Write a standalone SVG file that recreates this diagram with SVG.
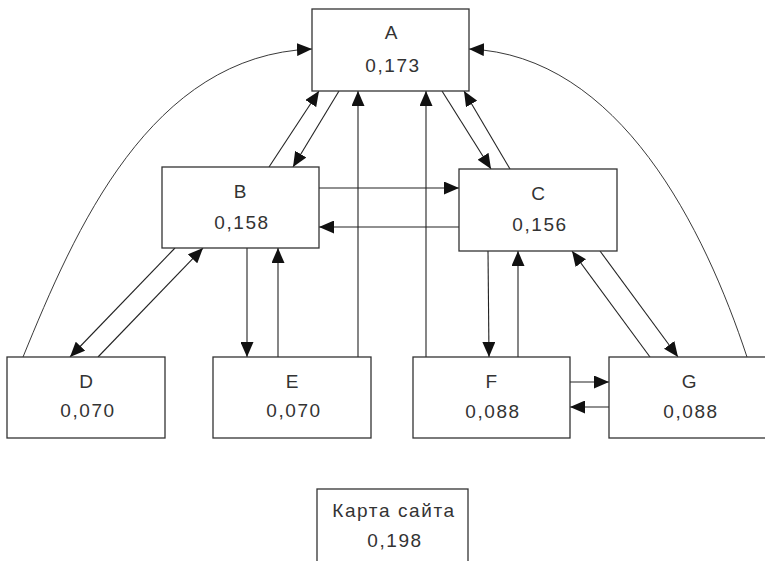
<svg xmlns="http://www.w3.org/2000/svg" width="765" height="561" viewBox="0 0 765 561">
<style>
.box{fill:#fff;stroke:#333;stroke-width:1.3}
.t{font-family:"Liberation Sans",Arial,sans-serif;font-size:19px;fill:#333;text-anchor:middle;letter-spacing:1.6px}
.c{fill:none;stroke:#222;stroke-width:1.1;marker-end:url(#arr)}
.cv{fill:none;stroke:#222;stroke-width:0.9;marker-end:url(#arr)}
</style>
<defs>
<marker id="arr" viewBox="0 0 15 13" refX="15" refY="6.5" markerWidth="15" markerHeight="13" markerUnits="userSpaceOnUse" orient="auto">
<path d="M0,0 L15,6.5 L0,13 z" fill="#111"/>
</marker>
</defs>
<rect width="765" height="561" fill="#fff"/>
<g id="connectors">
<path class="cv" d="M23,357 C75,230 150,55 312,49"/>
<path class="cv" d="M747,357 C705,230 620,55 469,49"/>
<line class="c" x1="269" y1="167" x2="319" y2="91"/>
<line class="c" x1="339" y1="91" x2="293" y2="167"/>
<line class="c" x1="358" y1="357" x2="358" y2="91"/>
<line class="c" x1="426" y1="357" x2="426" y2="91"/>
<line class="c" x1="442" y1="91" x2="491" y2="169"/>
<line class="c" x1="510" y1="169" x2="464" y2="91"/>
<line class="c" x1="319" y1="188" x2="459" y2="188"/>
<line class="c" x1="459" y1="227" x2="319" y2="227"/>
<line class="c" x1="175" y1="248" x2="70" y2="357"/>
<line class="c" x1="98" y1="357" x2="203" y2="248"/>
<line class="c" x1="247" y1="248" x2="247" y2="357"/>
<line class="c" x1="278" y1="357" x2="278" y2="248"/>
<line class="c" x1="488" y1="251" x2="489" y2="357"/>
<line class="c" x1="518" y1="357" x2="518" y2="251"/>
<line class="c" x1="650" y1="357" x2="572" y2="251"/>
<line class="c" x1="600" y1="251" x2="678" y2="357"/>
<line class="c" x1="570" y1="382" x2="609" y2="382"/>
<line class="c" x1="609" y1="407" x2="570" y2="407"/>
</g>
<g id="A">
<rect class="box" x="312" y="9" width="157" height="82"/>
<text class="t" x="392" y="39">A</text>
<text class="t" x="393" y="72">0,173</text>
</g>
<g id="B">
<rect class="box" x="162" y="167" width="157" height="81"/>
<text class="t" x="241" y="198">B</text>
<text class="t" x="242" y="229">0,158</text>
</g>
<g id="C">
<rect class="box" x="459" y="169" width="158" height="82"/>
<text class="t" x="539" y="200">C</text>
<text class="t" x="540" y="231">0,156</text>
</g>
<g id="D">
<rect class="box" x="7" y="357" width="158" height="81"/>
<text class="t" x="87" y="388">D</text>
<text class="t" x="88" y="417">0,070</text>
</g>
<g id="E">
<rect class="box" x="213" y="357" width="158" height="81"/>
<text class="t" x="293" y="388">E</text>
<text class="t" x="294" y="417">0,070</text>
</g>
<g id="F">
<rect class="box" x="413" y="357" width="157" height="81"/>
<text class="t" x="492" y="388">F</text>
<text class="t" x="493" y="418">0,088</text>
</g>
<g id="G">
<rect class="box" x="609" y="357" width="158" height="81"/>
<text class="t" x="690" y="388">G</text>
<text class="t" x="691" y="418">0,088</text>
</g>
<g id="sitemap">
<rect class="box" x="317" y="489" width="151" height="90"/>
<text class="t" x="394" y="517">Карта сайта</text>
<text class="t" x="395" y="547">0,198</text>
</g>
</svg>
